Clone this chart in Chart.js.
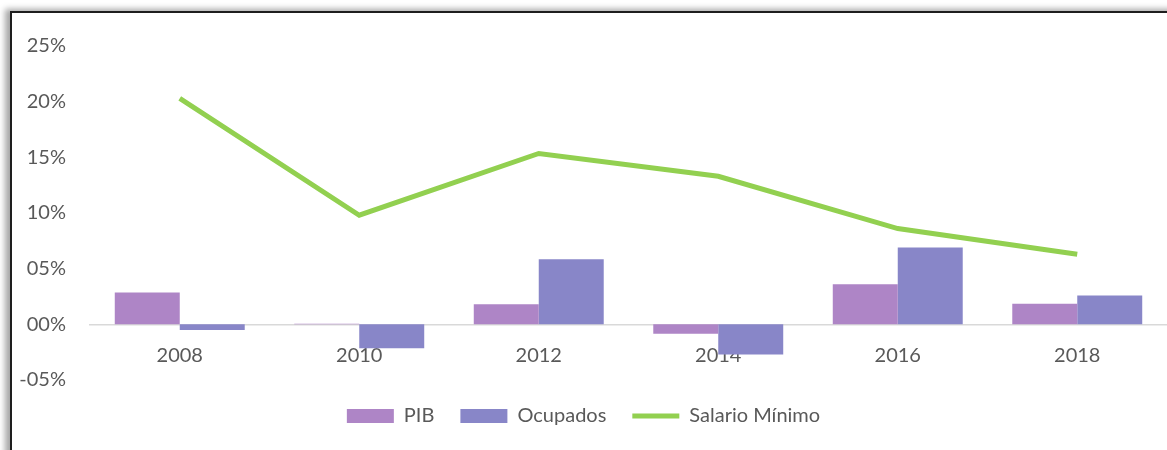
<!DOCTYPE html>
<html>
<head>
  <meta charset="UTF-8">
  <title>PIB, Ocupados y Salario Mínimo</title>
  <script src="https://cdn.jsdelivr.net/npm/chart.js"></script>
  <style>
    body { margin: 0; background: #fff; width: 1167px; height: 450px; overflow: hidden; position: relative; }
    #frame { position: absolute; left: 10px; top: 11px; width: 1300px; height: 600px;
             border-left: 2px solid #1e1e1e; border-top: 2px solid #1e1e1e;
             box-shadow: -5px -2px 6px rgba(0,0,0,0.35); }
    #wrap { position: absolute; left: 0; top: 0; width: 1167px; height: 450px; }
  </style>
</head>
<body>
  <div id="frame"></div>
  <div id="wrap"><canvas id="chart" width="1167" height="450"></canvas></div>
  <script>
    const years = ['2008', '2010', '2012', '2014', '2016', '2018'];
    const pib = [2.85, 0.05, 1.8, -0.85, 3.6, 1.85];
    const ocupados = [-0.5, -2.15, 5.85, -2.7, 6.9, 2.6];
    const salarioMinimo = [20.3, 9.8, 15.35, 13.3, 8.6, 6.3];

    const font = { family: 'Lato', size: 20 };
    const textColor = '#595959';
    const legendOrder = ['PIB', 'Ocupados', 'Salario Mínimo'];

    const ctx = document.getElementById('chart').getContext('2d');
    new Chart(ctx, {
      data: {
        labels: years,
        datasets: [
          {
            type: 'line',
            label: 'Salario Mínimo',
            data: salarioMinimo,
            borderColor: '#92D050',
            backgroundColor: '#92D050',
            borderWidth: 5,
            pointRadius: 0,
            pointStyle: 'line',
            tension: 0,
            order: 0
          },
          {
            type: 'bar',
            label: 'PIB',
            data: pib,
            backgroundColor: '#AE85C6',
            borderWidth: 0,
            pointStyle: 'rect',
            categoryPercentage: 0.724,
            barPercentage: 1,
            order: 1
          },
          {
            type: 'bar',
            label: 'Ocupados',
            data: ocupados,
            backgroundColor: '#8886C8',
            borderWidth: 0,
            pointStyle: 'rect',
            categoryPercentage: 0.724,
            barPercentage: 1,
            order: 1
          }
        ]
      },
      options: {
        responsive: false,
        animation: false,
        layout: { padding: { top: 46, right: 0, bottom: 14, left: 0 } },
        plugins: {
          tooltip: { enabled: false },
          legend: {
            position: 'bottom',
            labels: {
              font: font,
              color: textColor,
              usePointStyle: true,
              pointStyleWidth: 47,
              boxHeight: 14,
              padding: 26,
              sort: (a, b) => legendOrder.indexOf(a.text) - legendOrder.indexOf(b.text)
            }
          }
        },
        scales: {
          x: {
            position: { y: 0 },
            grid: { display: false, drawTicks: false },
            border: { display: true, color: '#D9D9D9', width: 1.5 },
            ticks: { font: font, color: textColor, padding: 19, maxRotation: 0 }
          },
          y: {
            min: -5,
            max: 25,
            grid: { display: false, drawTicks: false },
            border: { display: false },
            afterFit: (scale) => { scale.width = 90; },
            ticks: {
              stepSize: 5,
              font: font,
              color: textColor,
              padding: 24,
              callback: (v) => (v < 0 ? '-' : '') + String(Math.abs(v)).padStart(2, '0') + '%'
            }
          }
        }
      }
    });
  </script>
</body>
</html>
